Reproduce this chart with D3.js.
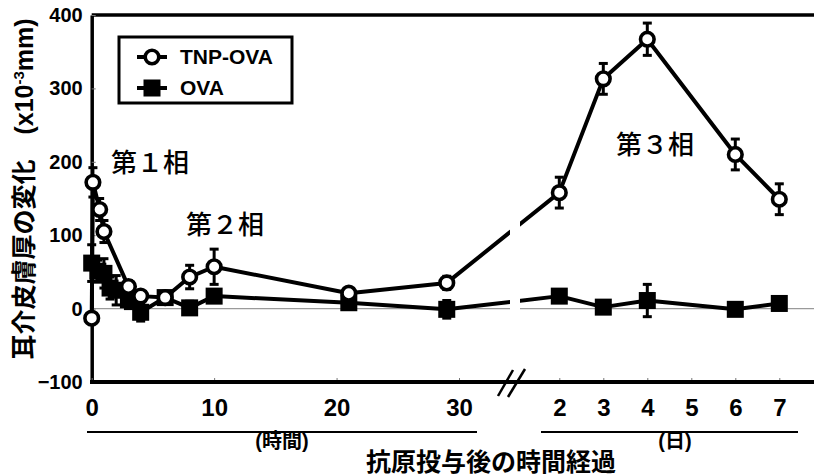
<!DOCTYPE html>
<html>
<head>
<meta charset="utf-8">
<script src="https://cdn.jsdelivr.net/npm/d3@7"></script>
<style>
  body { margin: 0; background: #fff; }
  svg { display: block; }
  text { font-family: "Liberation Sans", Arial, "Noto Sans CJK JP", sans-serif; }
</style>
</head>
<body>
<svg id="chart" width="814" height="475"></svg>
<script>
// Axis ticks
const yTicks = [-100, 0, 100, 200, 300, 400];
const hourTicks = [0, 10, 20, 30];
const dayTicks = [2, 3, 4, 5, 6, 7];

// TNP-OVA: hours after challenge, then days
const tnpHours = [0, 0.1, 0.65, 1, 3, 4, 6, 8, 10, 21, 29];
const tnpHourVals = [-13, 172, 135, 105, 30, 17, 15, 43, 57, 21, 35];
const tnpHourErr = [4, 20, 15, 15, 8, 6, 5, 16, 24, 4, 9];
const tnpDays = [2, 3, 4, 6, 7];
const tnpDayVals = [158, 313, 367, 210, 149];
const tnpDayErr = [21, 21, 22, 21, 21];

// OVA: hours after challenge, then days
const ovaHours = [0, 0.5, 1, 1.5, 2, 3, 4, 6, 8, 10, 21, 29];
const ovaHourVals = [62, 51, 48, 28, 25, 12, -5, 15, 1, 17, 8, -1];
const ovaHourErr = [25, 15, 20, 15, 20, 12, 12, 5, 9, 5, 4, 12];
const ovaDays = [2, 3, 4, 6, 7];
const ovaDayVals = [17, 2, 11, -1, 7];
const ovaDayErr = [4, 4, 22, 4, 4];

const seriesNames = ["TNP-OVA", "OVA"];
const phaseLabels = ["第１相", "第２相", "第３相"];

const svg = d3.select("#chart");
const W = 814;
const plotLeft = 91.7, plotTop = 15, plotBottom = 382;

const y = d3.scaleLinear().domain([-100, 400]).range([plotBottom, plotTop]);
const xh = d3.scaleLinear().domain([0, 30]).range([plotLeft, 459]);
const xd = d3.scaleLinear().domain([2, 7]).range([559.3, 779.3]);

function build(hours, hv, he, days, dv, de) {
  const a = hours.map((h, i) => ({ px: xh(h), v: hv[i], e: he[i] }));
  const b = days.map((d, i) => ({ px: xd(d), v: dv[i], e: de[i] }));
  return a.concat(b);
}
const tnp = build(tnpHours, tnpHourVals, tnpHourErr, tnpDays, tnpDayVals, tnpDayErr);
const ova = build(ovaHours, ovaHourVals, ovaHourErr, ovaDays, ovaDayVals, ovaDayErr);

// zero reference line
svg.append("line")
  .attr("x1", plotLeft).attr("x2", W)
  .attr("y1", y(0)).attr("y2", y(0))
  .attr("stroke", "#9a9a9a").attr("stroke-width", 1.3);

// top frame line
svg.append("line")
  .attr("x1", plotLeft).attr("x2", W)
  .attr("y1", plotTop).attr("y2", plotTop)
  .attr("stroke", "#000").attr("stroke-width", 3.5);

// left axis
const yAxis = svg.append("g")
  .attr("transform", `translate(${plotLeft},0)`)
  .call(d3.axisLeft(y).tickValues(yTicks).tickSize(-4).tickSizeOuter(0).tickPadding(9));
yAxis.select(".domain").attr("stroke-width", 3.5);
yAxis.selectAll(".tick line").attr("stroke", "#777").attr("stroke-width", 1);
yAxis.selectAll(".tick text")
  .attr("font-size", 20).attr("font-weight", "bold")
  .attr("font-family", "'Liberation Sans', Arial, sans-serif").attr("fill", "#000");

// bottom axes: hours and days
const xAxisH = svg.append("g")
  .attr("transform", `translate(0,${plotBottom})`)
  .call(d3.axisBottom(xh).tickValues(hourTicks).tickFormat(d3.format("d"))
    .tickSize(-4).tickSizeOuter(0).tickPadding(17));
const xAxisD = svg.append("g")
  .attr("transform", `translate(0,${plotBottom})`)
  .call(d3.axisBottom(xd).tickValues(dayTicks).tickFormat(d3.format("d"))
    .tickSize(-4).tickSizeOuter(0).tickPadding(17));
[xAxisH, xAxisD].forEach(g => {
  g.select(".domain").remove();
  g.selectAll(".tick line").attr("stroke", "#777").attr("stroke-width", 1);
  g.selectAll(".tick text")
    .attr("font-size", 24).attr("font-weight", "bold")
    .attr("font-family", "'Liberation Sans', Arial, sans-serif").attr("fill", "#000");
});
svg.append("line")
  .attr("x1", plotLeft - 1.7).attr("x2", W)
  .attr("y1", plotBottom).attr("y2", plotBottom)
  .attr("stroke", "#000").attr("stroke-width", 4);

// error bars
function errorBars(data, cls) {
  const g = svg.append("g").attr("class", cls);
  data.forEach(d => {
    g.append("line")
      .attr("x1", d.px).attr("x2", d.px)
      .attr("y1", y(d.v - d.e)).attr("y2", y(d.v + d.e))
      .attr("stroke", "#000").attr("stroke-width", 3);
    [d.v - d.e, d.v + d.e].forEach(v => {
      g.append("line")
        .attr("x1", d.px - 4.5).attr("x2", d.px + 4.5)
        .attr("y1", y(v)).attr("y2", y(v))
        .attr("stroke", "#000").attr("stroke-width", 3);
    });
  });
}

const line = d3.line().x(d => d.px).y(d => y(d.v));

errorBars(ova, "err-ova");
errorBars(tnp, "err-tnp");

svg.append("path").datum(ova).attr("d", line)
  .attr("fill", "none").attr("stroke", "#000").attr("stroke-width", 4)
  .attr("stroke-linejoin", "round");
svg.append("path").datum(tnp).attr("d", line)
  .attr("fill", "none").attr("stroke", "#000").attr("stroke-width", 4)
  .attr("stroke-linejoin", "round");

// axis break: white gap through the data and the zero line
svg.append("rect")
  .attr("x", 510).attr("y", 190).attr("width", 10).attr("height", 140)
  .attr("fill", "#fff");

// markers
svg.append("g").selectAll("rect").data(ova).join("rect")
  .attr("x", d => d.px - 8.5).attr("y", d => y(d.v) - 8.5)
  .attr("width", 17).attr("height", 17).attr("fill", "#000");
svg.append("g").selectAll("circle").data(tnp).join("circle")
  .attr("cx", d => d.px).attr("cy", d => y(d.v)).attr("r", 6.8)
  .attr("fill", "#fff").attr("stroke", "#000").attr("stroke-width", 3.6);

// break marks on the x axis
[[498, 396, 513, 370], [508, 397, 525, 369]].forEach(s => {
  svg.append("line")
    .attr("x1", s[0]).attr("y1", s[1]).attr("x2", s[2]).attr("y2", s[3])
    .attr("stroke", "#000").attr("stroke-width", 2.5);
});

// unit brackets under the axis
svg.append("line").attr("x1", 87).attr("x2", 477).attr("y1", 432).attr("y2", 432)
  .attr("stroke", "#000").attr("stroke-width", 2);
svg.append("line").attr("x1", 541).attr("x2", 798).attr("y1", 432).attr("y2", 432)
  .attr("stroke", "#000").attr("stroke-width", 2);
svg.append("text").attr("x", 282).attr("y", 448).attr("text-anchor", "middle")
  .attr("font-size", 20).attr("font-weight", "bold").text("(時間)");
svg.append("text").attr("x", 675).attr("y", 448).attr("text-anchor", "middle")
  .attr("font-size", 20).attr("font-weight", "bold").text("(日)");

// axis titles
svg.append("text").attr("x", 491).attr("y", 471).attr("text-anchor", "middle")
  .attr("font-size", 25).attr("font-weight", "bold").text("抗原投与後の時間経過");

const yt = svg.append("text")
  .attr("transform", "translate(33,189) rotate(-90)")
  .attr("text-anchor", "middle")
  .attr("font-size", 25).attr("font-weight", "bold");
yt.append("tspan").text("耳介皮膚厚の変化　(x10");
yt.append("tspan").attr("font-size", 15).attr("dy", -9).text("-3");
yt.append("tspan").attr("dy", 9).text("mm)");

// phase labels
const phasePos = [[150, 172], [225, 234], [655, 154]];
phaseLabels.forEach((t, i) => {
  svg.append("text").attr("x", phasePos[i][0]).attr("y", phasePos[i][1])
    .attr("text-anchor", "middle").attr("font-size", 26).attr("font-weight", 500)
    .attr("font-family", "'Noto Sans CJK JP', sans-serif")
    .text(t);
});

// legend
const lg = svg.append("g");
lg.append("rect").attr("x", 119).attr("y", 37).attr("width", 173).attr("height", 66)
  .attr("fill", "#fff").attr("stroke", "#000").attr("stroke-width", 3);
[57, 88].forEach((ly, i) => {
  lg.append("line").attr("x1", 137).attr("x2", 167).attr("y1", ly).attr("y2", ly)
    .attr("stroke", "#000").attr("stroke-width", 4);
  if (i === 0) {
    lg.append("circle").attr("cx", 152).attr("cy", ly).attr("r", 6.8)
      .attr("fill", "#fff").attr("stroke", "#000").attr("stroke-width", 3.6);
  } else {
    lg.append("rect").attr("x", 143.5).attr("y", ly - 8.5).attr("width", 17).attr("height", 17)
      .attr("fill", "#000");
  }
  lg.append("text").attr("x", 180).attr("y", ly).attr("dy", "0.35em")
    .attr("font-size", 21).attr("font-weight", "bold").text(seriesNames[i]);
});
</script>
</body>
</html>
